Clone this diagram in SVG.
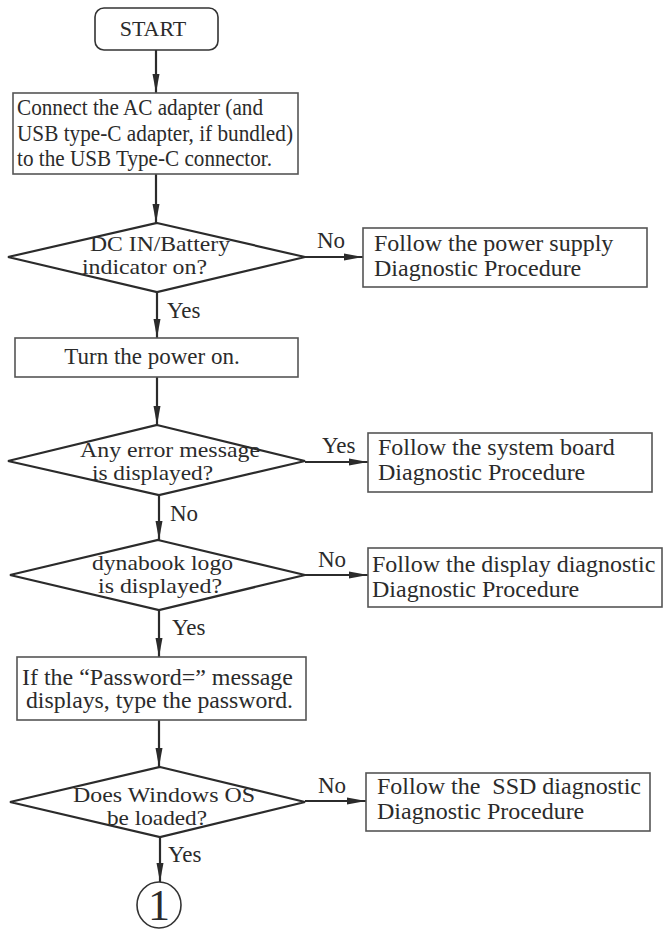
<svg xmlns="http://www.w3.org/2000/svg" width="663" height="930" viewBox="0 0 663 930">
<style>
text{font-family:"Liberation Serif","Times New Roman",serif;fill:#2b2b2b;font-size:23px}
.r{font-size:24px}
.s{font-size:22px}
.d{font-size:22px}
.big{font-size:44px}
.box{fill:#fff;stroke:#555;stroke-width:1.6}
.dia{fill:#fff;stroke:#2b2b2b;stroke-width:2.2}
.ln{stroke:#2b2b2b;stroke-width:2.2;fill:none;marker-end:url(#ah)}
.m{text-anchor:middle}
</style>
<defs>
<marker id="ah" markerUnits="userSpaceOnUse" markerWidth="20" markerHeight="8" refX="19" refY="4" orient="auto">
<path d="M0,0.5 L19,4 L0,7.5 Z" fill="#2b2b2b"/>
</marker>
</defs>
<rect width="663" height="930" fill="#fff"/>
<g id="connectors">
<line class="ln" x1="156" y1="50" x2="156" y2="93"/>
<line class="ln" x1="156" y1="174" x2="156" y2="223"/>
<line class="ln" x1="305" y1="257" x2="363" y2="257"/>
<line class="ln" x1="157" y1="292" x2="157" y2="338"/>
<line class="ln" x1="157" y1="377" x2="157" y2="425"/>
<line class="ln" x1="305" y1="462" x2="368" y2="462"/>
<line class="ln" x1="159" y1="495" x2="159" y2="540"/>
<line class="ln" x1="305" y1="575" x2="368" y2="575"/>
<line class="ln" x1="159" y1="610" x2="159" y2="657"/>
<line class="ln" x1="159" y1="720" x2="159" y2="767"/>
<line class="ln" x1="305" y1="801" x2="366" y2="801"/>
<line class="ln" x1="160" y1="837" x2="160" y2="882"/>
<text x="317" y="248">No</text>
<text x="167" y="318">Yes</text>
<text x="322" y="453">Yes</text>
<text x="170" y="521">No</text>
<text x="318" y="567">No</text>
<text x="172" y="635">Yes</text>
<text x="318" y="793">No</text>
<text x="168" y="862">Yes</text>
</g>
<g id="start">
<rect x="95" y="8" width="123" height="42" rx="9" class="box" style="stroke:#333"/>
<text x="153" y="36" class="m s">START</text>
</g>
<g id="connect">
<rect x="13" y="93" width="285" height="81" class="box"/>
<text x="17" y="115" textLength="246" lengthAdjust="spacingAndGlyphs">Connect the AC adapter (and</text>
<text x="17" y="141" textLength="276" lengthAdjust="spacingAndGlyphs">USB type-C adapter, if bundled)</text>
<text x="17" y="166" textLength="255" lengthAdjust="spacingAndGlyphs">to the USB Type-C connector.</text>
</g>
<g id="dcin">
<polygon class="dia" points="157,223 305,257 157,292 8,257"/>
<text class="d" x="90" y="251" textLength="140" lengthAdjust="spacingAndGlyphs">DC IN/Battery</text>
<text class="d" x="82" y="274" textLength="125" lengthAdjust="spacingAndGlyphs">indicator on?</text>
</g>
<g id="power-supply">
<rect x="363" y="228" width="284" height="59" class="box"/>
<text x="374" y="251" class="r">Follow the power supply</text>
<text x="374" y="276" class="r">Diagnostic Procedure</text>
</g>
<g id="turn-on">
<rect x="15" y="338" width="283" height="39" class="box"/>
<text x="152" y="364" class="m">Turn the power on.</text>
</g>
<g id="error">
<polygon class="dia" points="157,425 305,461 159,495 8,461"/>
<text class="d" x="80" y="457" textLength="180" lengthAdjust="spacingAndGlyphs">Any error message</text>
<text class="d" x="92" y="480" textLength="121" lengthAdjust="spacingAndGlyphs">is displayed?</text>
</g>
<g id="system-board">
<rect x="368" y="433" width="284" height="59" class="box"/>
<text x="378" y="455" class="r">Follow the system board</text>
<text x="378" y="480" class="r">Diagnostic Procedure</text>
</g>
<g id="logo">
<polygon class="dia" points="158,540 305,575 159,610 10,575"/>
<text class="d" x="92" y="570" textLength="141" lengthAdjust="spacingAndGlyphs">dynabook logo</text>
<text class="d" x="98" y="593" textLength="124" lengthAdjust="spacingAndGlyphs">is displayed?</text>
</g>
<g id="display">
<rect x="368" y="548" width="294" height="59" class="box"/>
<text x="372" y="572" class="r">Follow the display diagnostic</text>
<text x="372" y="597" class="r">Diagnostic Procedure</text>
</g>
<g id="password">
<rect x="17" y="657" width="289" height="63" class="box"/>
<text x="22" y="685" textLength="271" lengthAdjust="spacingAndGlyphs">If the “Password=” message</text>
<text x="26" y="708" textLength="267" lengthAdjust="spacingAndGlyphs">displays, type the password.</text>
</g>
<g id="windows">
<polygon class="dia" points="160,767 305,802 160,837 10,802"/>
<text class="d" x="73" y="802" textLength="182" lengthAdjust="spacingAndGlyphs">Does Windows OS</text>
<text class="d" x="107" y="825" textLength="100" lengthAdjust="spacingAndGlyphs">be loaded?</text>
</g>
<g id="ssd">
<rect x="366" y="773" width="284" height="58" class="box"/>
<text x="377" y="794" class="r" style="white-space:pre">Follow the  SSD diagnostic</text>
<text x="377" y="819" class="r">Diagnostic Procedure</text>
</g>
<g id="connector-1">
<ellipse cx="159" cy="905" rx="22" ry="23" fill="#fff" stroke="#333" stroke-width="1.6"/>
<text x="159" y="920" class="m big">1</text>
</g>
</svg>
